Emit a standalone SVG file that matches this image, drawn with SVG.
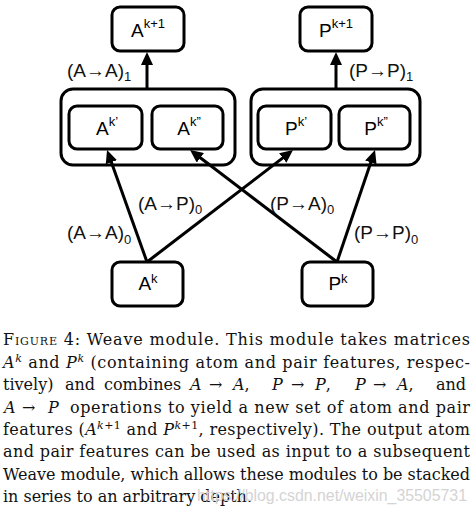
<svg xmlns="http://www.w3.org/2000/svg" width="475" height="510" viewBox="0 0 475 510">
<style>
.box{fill:#fff;stroke:#000;stroke-width:3}
.nt{font-family:"Liberation Sans",Arial,sans-serif;font-size:19px;fill:#000;text-anchor:middle}
.sup{font-size:13px}
.lbl{font-family:"Liberation Sans",Arial,sans-serif;font-size:19px;fill:#111}
.sub{font-size:13px}
.conn{stroke:#000;stroke-width:3;fill:none;marker-end:url(#ah)}
.cap{font-family:"DejaVu Serif","Liberation Serif",serif;font-size:16px;fill:#111}
.m{font-style:italic}
.ms{font-style:italic;font-size:11px}
.wm{font-family:"Liberation Sans",Arial,sans-serif;font-size:16px;fill:#d4d4d4}
</style>
<defs>
<marker id="ah" markerUnits="userSpaceOnUse" markerWidth="14" markerHeight="12" refX="3" refY="6" orient="auto">
<path d="M0,0 L13,6 L0,12 z" fill="#000"/>
</marker>
</defs>
<rect width="475" height="510" fill="#fff"/>

<g id="containerA"><rect class="box" x="61" y="89" width="174" height="76" rx="12"/></g>
<g id="containerP"><rect class="box" x="251" y="89" width="169" height="76" rx="12"/></g>

<g id="Akp1"><rect class="box" x="112" y="7" width="72" height="44" rx="8"/>
<text class="nt" x="148" y="37">A<tspan class="sup" dy="-9">k+1</tspan></text></g>
<g id="Pkp1"><rect class="box" x="300" y="7" width="72" height="44" rx="8"/>
<text class="nt" x="336" y="37">P<tspan class="sup" dy="-9">k+1</tspan></text></g>

<g id="Ak1"><rect class="box" x="69" y="106" width="73" height="43" rx="8"/>
<text class="nt" x="107" y="135">A<tspan class="sup" dy="-9">k’</tspan></text></g>
<g id="Ak2"><rect class="box" x="152" y="106" width="71" height="43" rx="8"/>
<text class="nt" x="189" y="135">A<tspan class="sup" dy="-9">k”</tspan></text></g>
<g id="Pk1"><rect class="box" x="258" y="106" width="73" height="43" rx="8"/>
<text class="nt" x="296" y="135">P<tspan class="sup" dy="-9">k’</tspan></text></g>
<g id="Pk2"><rect class="box" x="339" y="106" width="71" height="43" rx="8"/>
<text class="nt" x="376" y="135">P<tspan class="sup" dy="-9">k”</tspan></text></g>

<g id="Ak"><rect class="box" x="112" y="262" width="71" height="44" rx="8"/>
<text class="nt" x="148" y="290">A<tspan class="sup" dy="-7">k</tspan></text></g>
<g id="Pk"><rect class="box" x="302" y="262" width="71" height="44" rx="8"/>
<text class="nt" x="338" y="290">P<tspan class="sup" dy="-7">k</tspan></text></g>

<g id="connectors">
<line class="conn" x1="147" y1="89" x2="147" y2="62"/>
<line class="conn" x1="336" y1="89" x2="336" y2="62"/>
<line class="conn" x1="147" y1="262" x2="110.4" y2="159.4"/>
<line class="conn" x1="147" y1="262" x2="285.1" y2="156.1"/>
<line class="conn" x1="337" y1="262" x2="198" y2="156"/>
<line class="conn" x1="337" y1="262" x2="371.8" y2="159.5"/>
</g>

<g id="labels">
<text class="lbl" x="67" y="77">(A→A)<tspan class="sub" dy="4">1</tspan></text>
<text class="lbl" x="349" y="77">(P→P)<tspan class="sub" dy="4">1</tspan></text>
<text class="lbl" x="138" y="210">(A→P)<tspan class="sub" dy="4">0</tspan></text>
<text class="lbl" x="270" y="210">(P→A)<tspan class="sub" dy="4">0</tspan></text>
<text class="lbl" x="67" y="239">(A→A)<tspan class="sub" dy="5">0</tspan></text>
<text class="lbl" x="354" y="239">(P→P)<tspan class="sub" dy="5">0</tspan></text>
</g>

<g id="caption">
<text class="cap" x="3" y="345" textLength="467" lengthAdjust="spacing"><tspan style="font-variant:small-caps">Figure</tspan> 4: Weave module.  This module takes matrices</text>
<text class="cap" x="3" y="367.5" textLength="467" lengthAdjust="spacing"><tspan class="m">A</tspan><tspan class="ms" dy="-6">k</tspan><tspan dy="6"> and </tspan><tspan class="m">P</tspan><tspan class="ms" dy="-6">k</tspan><tspan dy="6"> (containing atom and pair features, respec-</tspan></text>
<text class="cap" y="390"><tspan x="3">tively)</tspan><tspan x="65">and</tspan><tspan x="104">combines</tspan><tspan x="190" class="m">A</tspan><tspan x="209">→</tspan><tspan x="233"><tspan class="m">A</tspan>,</tspan><tspan x="272" class="m">P</tspan><tspan x="291">→</tspan><tspan x="315"><tspan class="m">P</tspan>,</tspan><tspan x="355" class="m">P</tspan><tspan x="373">→</tspan><tspan x="397"><tspan class="m">A</tspan>,</tspan><tspan x="436">and</tspan></text>
<text class="cap" y="412.5"><tspan x="4" class="m">A</tspan><tspan x="22">→</tspan><tspan x="48" class="m">P</tspan></text>
<text class="cap" x="70" y="412.5" textLength="400" lengthAdjust="spacing">operations to yield a new set of atom and pair</text>
<text class="cap" x="3" y="435" textLength="467" lengthAdjust="spacing">features (<tspan class="m">A</tspan><tspan class="ms" dy="-6">k</tspan><tspan style="font-size:11px">+1</tspan><tspan dy="6"> and </tspan><tspan class="m">P</tspan><tspan class="ms" dy="-6">k</tspan><tspan style="font-size:11px">+1</tspan><tspan dy="6">, respectively). The output atom</tspan></text>
<text class="cap" x="3" y="457" textLength="467" lengthAdjust="spacing">and pair features can be used as input to a subsequent</text>
<text class="cap" x="3" y="479.5" textLength="467" lengthAdjust="spacing">Weave module, which allows these modules to be stacked</text>
<text class="cap" x="3" y="502" textLength="249" lengthAdjust="spacing">in series to an arbitrary depth.</text>
<text class="wm" x="197" y="501" textLength="270" lengthAdjust="spacingAndGlyphs">https://blog.csdn.net/weixin_35505731</text>
</g>
</svg>
